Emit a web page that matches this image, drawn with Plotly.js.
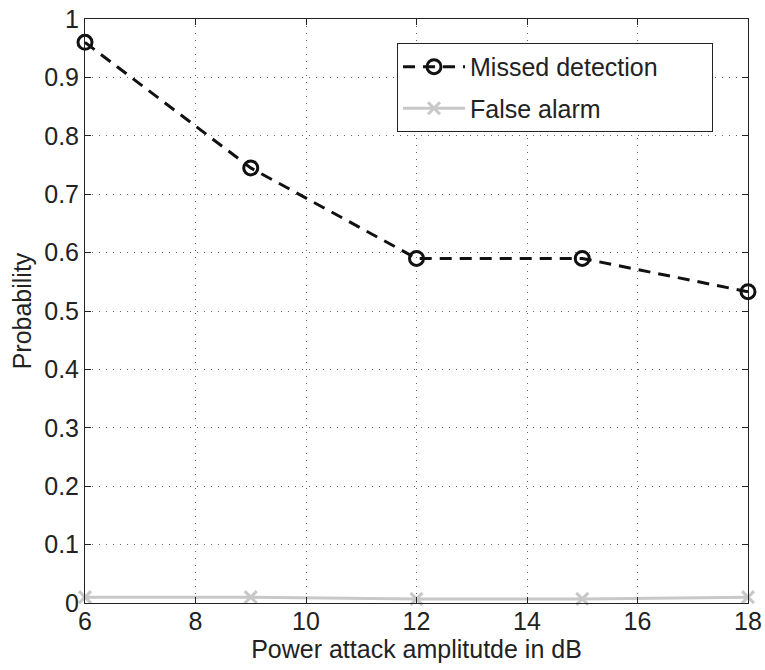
<!DOCTYPE html>
<html>
<head>
<meta charset="utf-8">
<script src="https://cdn.plot.ly/plotly-3.0.1.min.js"></script>
<style>html,body{margin:0;padding:0;background:#fff;}#chart{width:765px;height:670px;}</style>
</head>
<body>
<div id="chart"></div>
<script>
const xValues = [6, 9, 12, 15, 18];
const missedDetection = [0.96, 0.745, 0.59, 0.59, 0.533];
const falseAlarm = [0.01, 0.01, 0.007, 0.007, 0.01];
const seriesNames = ["Missed detection", "False alarm"];
const xTicks = [6, 8, 10, 12, 14, 16, 18];
const yTicks = [0, 0.1, 0.2, 0.3, 0.4, 0.5, 0.6, 0.7, 0.8, 0.9, 1];
const yTickText = ["0", "0.1", "0.2", "0.3", "0.4", "0.5", "0.6", "0.7", "0.8", "0.9", "1"];

const font = "Liberation Sans, Arial, Helvetica, sans-serif";
const legendPad = "\u00a0".repeat(7);

const traces = [
  {
    x: xValues, y: missedDetection, name: seriesNames[0] + legendPad, type: "scatter", mode: "lines+markers",
    legendgroup: "a",
    line: {color: "#111", width: 3, dash: "12px,8px"},
    marker: {symbol: "circle-open", size: 14, color: "#111", line: {width: 3, color: "#111"}},
    cliponaxis: false
  },
  {
    x: xValues, y: falseAlarm, name: seriesNames[1], type: "scatter", mode: "lines+markers",
    legendgroup: "b",
    line: {color: "#c8c8c8", width: 3},
    marker: {symbol: "x-thin-open", size: 12, color: "#c8c8c8", line: {width: 3, color: "#c8c8c8"}},
    cliponaxis: false
  }
];

const axisCommon = {
  showline: true, linecolor: "#222", linewidth: 1, mirror: "ticks",
  ticks: "inside", ticklen: 6, tickcolor: "#222",
  showgrid: true, gridcolor: "#666", griddash: "1px,6px", gridwidth: 1,
  zeroline: false,
  tickfont: {family: font, size: 25, color: "#222"}
};

const layout = {
  width: 765, height: 670,
  margin: {l: 85, r: 17, t: 19, b: 67},
  paper_bgcolor: "#fff", plot_bgcolor: "#fff",
  font: {family: font, color: "#222"},
  showlegend: true,
  xaxis: Object.assign({}, axisCommon, {
    range: [6, 18], tickvals: xTicks, ticktext: xTicks.map(String),
    ticklabelstandoff: -4,
    title: {text: "Power attack amplitutde in dB", font: {family: font, size: 25, color: "#222"}, standoff: 1}
  }),
  yaxis: Object.assign({}, axisCommon, {
    range: [0, 1], tickvals: yTicks, ticktext: yTickText,
    title: {text: "Probability", font: {family: font, size: 25, color: "#222"}, standoff: 5}
  }),
  legend: {
    x: 0.4706, y: 0.959, xanchor: "left", yanchor: "top",
    bgcolor: "#fff", bordercolor: "#222", borderwidth: 1,
    font: {family: font, size: 25, color: "#222"},
    itemwidth: 62, traceorder: "grouped", tracegroupgap: 6
  }
};

Plotly.newPlot("chart", traces, layout, {displayModeBar: false, staticPlot: true});
</script>
</body>
</html>
